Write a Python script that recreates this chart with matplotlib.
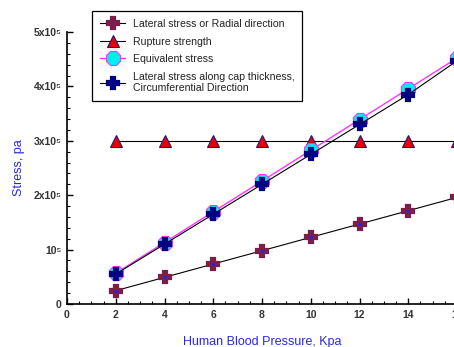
import matplotlib
matplotlib.use("Agg")
import matplotlib.pyplot as plt
from matplotlib.ticker import MultipleLocator, FixedLocator, FixedFormatter

plt.rcParams['font.family'] = ['Liberation Sans', 'DejaVu Sans']

pressure = [2, 4, 6, 8, 10, 12, 14, 16]
radial = [0.245e5, 0.49e5, 0.735e5, 0.98e5, 1.225e5, 1.47e5, 1.715e5, 1.96e5]
rupture = [3e5] * 8
equivalent = [0.565e5, 1.13e5, 1.695e5, 2.26e5, 2.825e5, 3.39e5, 3.955e5, 4.52e5]
circumferential = [0.55e5, 1.10e5, 1.65e5, 2.20e5, 2.75e5, 3.30e5, 3.85e5, 4.47e5]

ytick_vals = [0, 1e5, 2e5, 3e5, 4e5, 5e5]
ytick_labels = ["0", "10⁵", "2x10⁵", "3x10⁵", "4x10⁵", "5x10⁵"]
xtick_vals = [0, 2, 4, 6, 8, 10, 12, 14, 16]

fig = plt.figure(figsize=(4.54, 3.47), dpi=100)
ax = fig.add_axes([67/454, 43/347, 390/454, 272/347])

ax.plot(pressure, radial, color='black', lw=0.8, marker='P', ms=9,
        mfc='#7a1f4a', mec='#7a1f4a', mew=1.6, zorder=3, label='Lateral stress or Radial direction')
ax.plot(pressure, radial, ls='none', marker='o', ms=2.2, mfc='#2020ff', mec='none', zorder=5)
ax.plot(pressure, rupture, color='black', lw=0.8, marker='^', ms=9,
        mfc='#ee0000', mec='#1a1a80', mew=0.8, zorder=3, label='Rupture strength')
ax.plot(pressure, equivalent, color='#ff33ff', lw=1.0, marker='8', ms=11,
        mfc='#00eeee', mec='#ff33ff', mew=0.8, zorder=3, label='Equivalent stress')
ax.plot(pressure, circumferential, color='black', lw=0.8, marker='P', ms=8,
        mfc='#000080', mec='#000080', mew=1.6, zorder=4,
        label='Lateral stress along cap thickness,\nCircumferential Direction')

ax.set_xlim(0, 16)
ax.set_ylim(0, 5e5)
ax.xaxis.set_major_locator(FixedLocator(xtick_vals))
ax.xaxis.set_minor_locator(MultipleLocator(0.5))
ax.yaxis.set_major_locator(FixedLocator(ytick_vals))
ax.yaxis.set_major_formatter(FixedFormatter(ytick_labels))
ax.yaxis.set_minor_locator(MultipleLocator(0.2e5))

for s in ['top', 'right']:
    ax.spines[s].set_visible(False)
for s in ['left', 'bottom']:
    ax.spines[s].set_linewidth(1.2)

ax.tick_params(which='both', direction='in', color='black')
ax.tick_params(which='major', length=4, width=1, labelsize=7.5, labelcolor='#333333', pad=4)
ax.tick_params(which='minor', length=2, width=0.8)
for lab in ax.get_xticklabels() + ax.get_yticklabels():
    lab.set_fontweight('bold')

ax.set_xlabel('Human Blood Pressure, Kpa', color='#2a2ad8', fontsize=9, labelpad=12)
ax.set_ylabel('Stress, pa', color='#2a2ad8', fontsize=9, labelpad=6)

leg = ax.legend(loc='upper left', bbox_to_anchor=(25/390, 1.077), fontsize=7.6,
                frameon=True, fancybox=False, edgecolor='black', framealpha=1,
                handlelength=2.4, borderpad=0.75, labelspacing=0.72, handletextpad=0.7,
                borderaxespad=0)
leg.get_frame().set_linewidth(0.9)
for t in leg.get_texts():
    t.set_color('#222222')

fig.savefig('out.png', dpi=100)
